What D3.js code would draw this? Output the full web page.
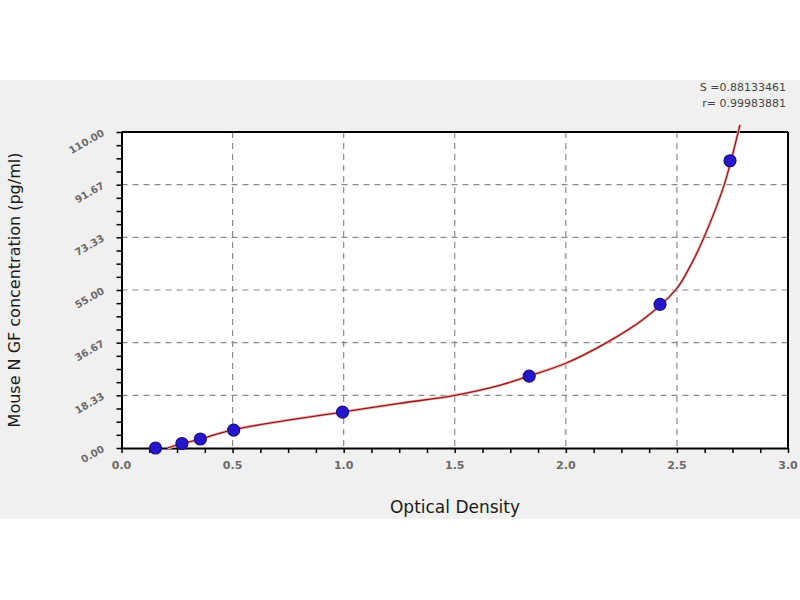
<!DOCTYPE html>
<html>
<head>
<meta charset="utf-8">
<script src="https://cdn.jsdelivr.net/npm/d3@7"></script>
<style>
  body { margin: 0; background: #fff; }
  text { font-family: "DejaVu Sans", Verdana, sans-serif; }
</style>
</head>
<body>
<div id="chart"></div>
<script>
// standards (OD vs concentration)
var standardOD = [0.153, 0.272, 0.355, 0.505, 0.995, 1.835, 2.424, 2.739];
var standardConc = [0, 1.56, 3.13, 6.25, 12.5, 25, 50, 100];

// fitted curve
var curveOD = [0.207, 0.272, 0.35, 0.5, 0.75, 1.0, 1.25, 1.5, 1.706, 1.831, 2.0, 2.184, 2.349, 2.497, 2.56, 2.622, 2.713, 2.776, 2.784];
var curveConc = [0, 1.5, 3.0, 6.3, 9.7, 12.6, 15.5, 18.33, 21.9, 25.0, 29.5, 36.67, 44.8, 55.3, 63.3, 73.33, 91.67, 110.0, 112.5];

var xTicks = [0, 0.5, 1.0, 1.5, 2.0, 2.5, 3.0];
var yTicks = [0, 18.33, 36.67, 55, 73.33, 91.67, 110];
var yTickLabels = ["0.00", "18.33", "36.67", "55.00", "73.33", "91.67", "110.00"];
var statLines = ["S =0.88133461", "r= 0.99983881"];

var width = 800, height = 600;
var plotLeft = 121.5, plotRight = 788, plotTop = 132, plotBottom = 448;

var svg = d3.select("#chart").append("svg")
    .attr("width", width)
    .attr("height", height);

// grey panel behind the chart
svg.append("rect")
    .attr("x", 0).attr("y", 80)
    .attr("width", width).attr("height", 439)
    .attr("fill", "#f0f0f0");

var x = d3.scaleLinear().domain([0, 3]).range([plotLeft, plotRight]);
var y = d3.scaleLinear().domain([0, 110]).range([plotBottom, plotTop]);

svg.append("rect")
    .attr("x", plotLeft).attr("y", plotTop)
    .attr("width", plotRight - plotLeft).attr("height", plotBottom - plotTop)
    .attr("fill", "#fff");

// dashed grid
svg.append("g").selectAll("line")
    .data(xTicks.slice(1, -1))
    .enter().append("line")
    .attr("x1", function(d) { return x(d); })
    .attr("x2", function(d) { return x(d); })
    .attr("y1", plotTop).attr("y2", plotBottom)
    .attr("stroke", "#8a8a8a")
    .attr("stroke-width", 1.2)
    .attr("stroke-dasharray", "6,5");

svg.append("g").selectAll("line")
    .data(yTicks.slice(1, -1))
    .enter().append("line")
    .attr("y1", function(d) { return y(d); })
    .attr("y2", function(d) { return y(d); })
    .attr("x1", plotLeft).attr("x2", plotRight)
    .attr("stroke", "#8a8a8a")
    .attr("stroke-width", 1.2)
    .attr("stroke-dasharray", "6,5");

// frame top and right
svg.append("line")
    .attr("x1", plotLeft).attr("x2", plotRight).attr("y1", plotTop).attr("y2", plotTop)
    .attr("stroke", "#000").attr("stroke-width", 2);
svg.append("line")
    .attr("x1", plotRight).attr("x2", plotRight).attr("y1", plotTop).attr("y2", plotBottom)
    .attr("stroke", "#000").attr("stroke-width", 2);

// axes with minor ticks
var xMinor = d3.range(0, 3.0001, 0.125);
var yMinor = d3.range(0, 25).map(function(i) { return i * 110 / 24; });

var xAxis = svg.append("g")
    .attr("transform", "translate(0," + plotBottom + ")")
    .call(d3.axisBottom(x).tickValues(xMinor).tickSize(5).tickSizeOuter(0).tickFormat(""));
xAxis.select(".domain").attr("stroke-width", 2);
xAxis.selectAll(".tick line").attr("stroke-width", 1.5);

var yAxis = svg.append("g")
    .attr("transform", "translate(" + plotLeft + ",0)")
    .call(d3.axisLeft(y).tickValues(yMinor).tickSize(5).tickSizeOuter(0).tickFormat(""));
yAxis.select(".domain").attr("stroke-width", 2);
yAxis.selectAll(".tick line").attr("stroke-width", 1.5);

// tick labels
svg.append("g").selectAll("text")
    .data(xTicks)
    .enter().append("text")
    .attr("x", function(d) { return x(d); })
    .attr("y", 469)
    .attr("text-anchor", "middle")
    .attr("font-size", 11)
    .attr("font-weight", "bold")
    .attr("fill", "#6a6a6a")
    .text(function(d) { return d.toFixed(1); });

svg.append("g").selectAll("text")
    .data(yTicks)
    .enter().append("text")
    .attr("transform", function(d) { return "translate(105," + (y(d) + 3) + ") rotate(-30)"; })
    .attr("text-anchor", "end")
    .attr("font-size", 10)
    .attr("font-weight", "bold")
    .attr("fill", "#6a6a6a")
    .text(function(d, i) { return yTickLabels[i]; });

// fitted curve
var curveData = curveOD.map(function(d, i) { return [d, curveConc[i]]; });
var line = d3.line()
    .x(function(d) { return x(d[0]); })
    .y(function(d) { return y(d[1]); })
    .curve(d3.curveCatmullRom.alpha(0.5));

svg.append("path")
    .datum(curveData)
    .attr("d", line)
    .attr("fill", "none")
    .attr("stroke", "#f2b8b8")
    .attr("stroke-width", 3);
svg.append("path")
    .datum(curveData)
    .attr("d", line)
    .attr("fill", "none")
    .attr("stroke", "#8e1a1a")
    .attr("stroke-width", 1.3);

// standards
svg.append("g").selectAll("circle")
    .data(standardOD)
    .enter().append("circle")
    .attr("cx", function(d) { return x(d); })
    .attr("cy", function(d, i) { return y(standardConc[i]); })
    .attr("r", 6)
    .attr("fill", "#2616cf")
    .attr("stroke", "#1a0f7a")
    .attr("stroke-width", 1.2);

// axis titles
svg.append("text")
    .attr("x", 455).attr("y", 513)
    .attr("text-anchor", "middle")
    .attr("font-size", 17)
    .attr("fill", "#1a1a1a")
    .text("Optical Density");

svg.append("text")
    .attr("transform", "translate(20,290) rotate(-90)")
    .attr("text-anchor", "middle")
    .attr("font-size", 16)
    .attr("fill", "#1a1a1a")
    .text("Mouse N GF concentration (pg/ml)");

// fit statistics
svg.append("g").selectAll("text")
    .data(statLines)
    .enter().append("text")
    .attr("x", 786)
    .attr("y", function(d, i) { return 91 + i * 16; })
    .attr("text-anchor", "end")
    .attr("font-size", 11)
    .attr("fill", "#444")
    .text(function(d) { return d; });
</script>
</body>
</html>
